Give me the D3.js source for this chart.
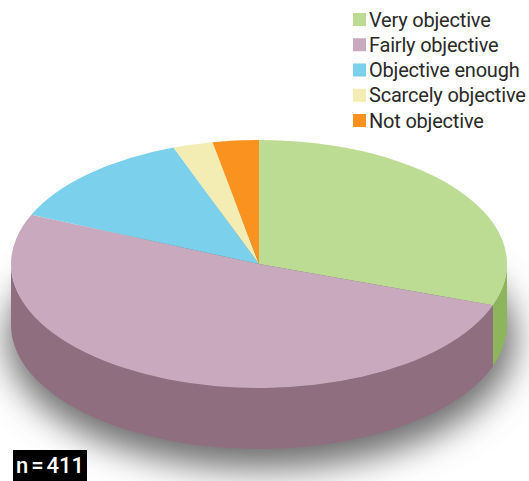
<!DOCTYPE html>
<html><head><meta charset="utf-8">
<script src="https://cdn.jsdelivr.net/npm/d3@7"></script>
<style>html,body{margin:0;padding:0;background:#fff}svg{display:block}</style>
</head><body><svg id="c" width="529" height="481"></svg>
<script>
const categories = ["Very objective","Fairly objective","Objective enough","Scarcely objective","Not objective"];
const shares = [30.4,51.1,12.9,2.6,3.0];
const topColors = ["#bddc93","#c9a9bd","#7bd1ec","#f3edb3","#f9921f"];
const sideColors = ["#8db55c","#8f6e80","#5aa6bd","#c2bd8f","#c77418"];
const sampleParts = ["n","=","411"];

const W=529,H=481,cx=259,cy=264,rx=248,ry=124,depth=61;
const svg=d3.select("#c");
const defs=svg.append("defs");
defs.append("filter").attr("id","blur").attr("x","-30%").attr("y","-40%").attr("width","160%").attr("height","180%")
  .append("feGaussianBlur").attr("stdDeviation",17);

svg.append("ellipse").attr("cx",cx+2).attr("cy",cy+depth+14).attr("rx",rx+6).attr("ry",ry+6)
  .attr("fill","#6e6e6e").attr("filter","url(#blur)");

const pie=d3.pie().sort(null).value(d=>d)(shares);
const pt=(a,dy=0)=>[cx+rx*Math.sin(a),cy-ry*Math.cos(a)+dy];

// side walls
pie.forEach((d,i)=>{
  const a0=Math.max(d.startAngle,Math.PI/2),a1=Math.min(d.endAngle,3*Math.PI/2);
  if(a1<=a0)return;
  const p0=pt(a0),p1=pt(a1),q1=pt(a1,depth),q0=pt(a0,depth);
  const s=`M${p0}A${rx},${ry} 0 0 1 ${p1}L${q1}A${rx},${ry} 0 0 0 ${q0}Z`;
  svg.append("path").attr("d",s).attr("fill",sideColors[i]);
});

// top face
const arc=d3.arc().innerRadius(0).outerRadius(rx);
svg.append("g").attr("transform",`translate(${cx},${cy}) scale(1,${ry/rx})`)
  .selectAll("path").data(pie).join("path")
  .attr("d",arc).attr("fill",(d,i)=>topColors[i]);

// legend
const ly=d3.scalePoint().domain(categories).range([19.5,120.5]);
const lg=svg.append("g").selectAll("g").data(categories).join("g").attr("transform",d=>`translate(0,${ly(d)})`);
lg.append("rect").attr("x",353).attr("y",-6.5).attr("width",13).attr("height",13).attr("fill",(d,i)=>topColors[i]);
lg.append("text").attr("x",369).attr("y",7).text(d=>d)
  .attr("font-family","Roboto").attr("font-size",20).attr("font-weight",400).attr("letter-spacing",-0.2).attr("fill","#2a2a28");

// sample box
svg.append("rect").attr("x",13).attr("y",450).attr("width",74).attr("height",31).attr("fill","#000");
svg.append("text").attr("x",50).attr("y",473).attr("text-anchor","middle").attr("word-spacing",-2.5).text(sampleParts.join(" "))
  .attr("font-family","Roboto").attr("font-size",22).attr("font-weight",500).attr("fill","#fff");
</script></body></html>
